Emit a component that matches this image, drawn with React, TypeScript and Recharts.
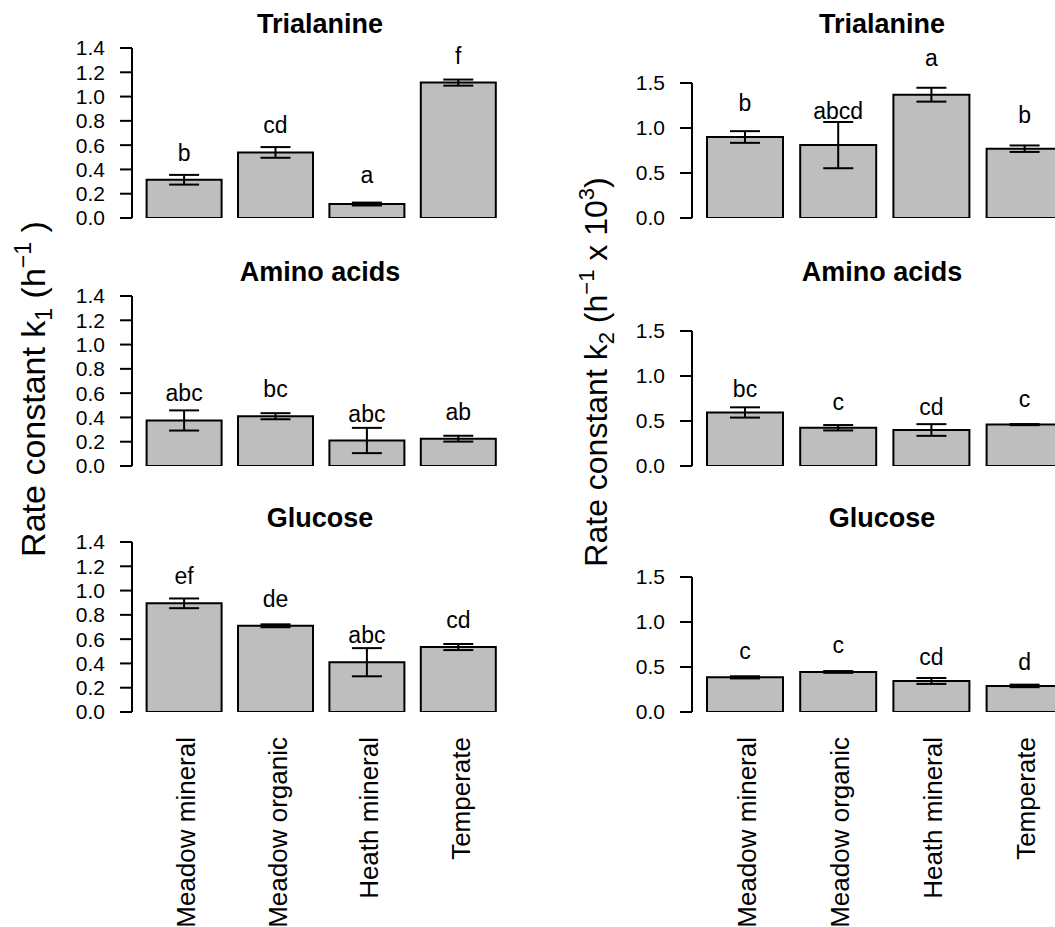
import React from "react";
import { Bar, BarChart, ErrorBar, LabelList, XAxis, YAxis } from "recharts";

const FONT = '"Liberation Sans", Arial, Helvetica, sans-serif';

const sites = ["Meadow mineral", "Meadow organic", "Heath mineral", "Temperate"];

// k1 (h^-1): mean, standard error, significance letters
const k1TrialanineMean = [0.315, 0.54, 0.115, 1.115];
const k1TrialanineSe = [0.04, 0.044, 0.012, 0.025];
const k1TrialanineLetters = ["b", "cd", "a", "f"];

const k1AminoMean = [0.375, 0.41, 0.21, 0.225];
const k1AminoSe = [0.083, 0.025, 0.104, 0.024];
const k1AminoLetters = ["abc", "bc", "abc", "ab"];

const k1GlucoseMean = [0.895, 0.71, 0.41, 0.535];
const k1GlucoseSe = [0.04, 0.012, 0.116, 0.025];
const k1GlucoseLetters = ["ef", "de", "abc", "cd"];

// k2 (h^-1 x 10^3)
const k2TrialanineMean = [0.9, 0.81, 1.37, 0.77];
const k2TrialanineSe = [0.065, 0.257, 0.077, 0.036];
const k2TrialanineLetters = ["b", "abcd", "a", "b"];

const k2AminoMean = [0.595, 0.425, 0.4, 0.46];
const k2AminoSe = [0.057, 0.03, 0.065, 0.006];
const k2AminoLetters = ["bc", "c", "cd", "c"];

const k2GlucoseMean = [0.385, 0.445, 0.345, 0.29];
const k2GlucoseSe = [0.012, 0.01, 0.033, 0.014];
const k2GlucoseLetters = ["c", "c", "cd", "d"];

const k1Ticks = [0, 0.2, 0.4, 0.6, 0.8, 1.0, 1.2, 1.4];
const k2Ticks = [0, 0.5, 1.0, 1.5];

const panelTitles = ["Trialanine", "Amino acids", "Glucose"];

// y of the zero line for each row of panels
const rowZero = [218.3, 466, 712.3];

function SiteTick(props: any) {
  const { x, y, payload } = props;
  const bx = x + 11;
  const by = y + 25;
  return (
    <text
      x={bx}
      y={by}
      transform={`rotate(-90, ${bx}, ${by})`}
      textAnchor="end"
      fontSize={26}
      fontFamily={FONT}
      fill="#000"
    >
      {payload.value}
    </text>
  );
}

function letterLabel(lift: number) {
  return (props: any) => {
    const { x, y, width, value } = props;
    const tall = /[bdfhklt]/.test(String(value));
    return (
      <text
        x={Number(x) + Number(width) / 2}
        y={Number(y) - lift - (tall ? 0 : 2.5)}
        textAnchor="middle"
        fontSize={23}
        fontFamily={FONT}
        fill="#000"
      >
        {value}
      </text>
    );
  };
}

type PanelProps = {
  left: number;
  zeroY: number;
  plotH: number;
  max: number;
  ticks: number[];
  band: number;
  pad: number;
  barSize: number;
  lift: number;
  mean: number[];
  se: number[];
  letters: string[];
  showSites: boolean;
};

function Panel({
  left,
  zeroY,
  plotH,
  max,
  ticks,
  band,
  pad,
  barSize,
  lift,
  mean,
  se,
  letters,
  showSites,
}: PanelProps) {
  const rows = sites.map((site, i) => ({
    site,
    mean: mean[i],
    se: se[i],
    letter: letters[i],
  }));
  const top = 50;
  const width = 520;
  const plotLeft = 132;
  const plotRight = plotLeft + pad + band * sites.length;
  const axisH = showSites ? 215 : 0;
  const bottom = showSites ? 0 : 10;
  const height = top + plotH + axisH + bottom;

  return (
    <div style={{ position: "absolute", left, top: zeroY - plotH - top }}>
      <BarChart
        width={width}
        height={height}
        data={rows}
        margin={{ top, right: width - plotRight, bottom, left: plotLeft - 60 }}
      >
        <XAxis
          dataKey="site"
          hide={!showSites}
          height={axisH}
          padding={{ left: pad, right: 0 }}
          axisLine={false}
          tickLine={false}
          tickSize={0}
          tickMargin={0}
          interval={0}
          tick={<SiteTick />}
        />
        <YAxis
          width={60}
          domain={[0, max]}
          ticks={ticks}
          allowDataOverflow
          interval={0}
          tickFormatter={(v: number) => v.toFixed(1)}
          tick={{ fill: "#000", fontSize: 21, fontFamily: FONT }}
          tickSize={12}
          tickMargin={15}
          axisLine={{ stroke: "#000", strokeWidth: 2 }}
          tickLine={{ stroke: "#000", strokeWidth: 2 }}
        />
        <Bar
          dataKey="mean"
          fill="#bebebe"
          stroke="#000"
          strokeWidth={2}
          barSize={barSize}
          isAnimationActive={false}
        >
          <ErrorBar dataKey="se" width={15} stroke="#000" strokeWidth={2} direction="y" />
          <LabelList dataKey="letter" content={letterLabel(lift)} />
        </Bar>
      </BarChart>
    </div>
  );
}

export default function App() {
  const k1Panels = [
    { mean: k1TrialanineMean, se: k1TrialanineSe, letters: k1TrialanineLetters, lift: 19 },
    { mean: k1AminoMean, se: k1AminoSe, letters: k1AminoLetters, lift: 19 },
    { mean: k1GlucoseMean, se: k1GlucoseSe, letters: k1GlucoseLetters, lift: 19 },
  ];
  const k2Panels = [
    { mean: k2TrialanineMean, se: k2TrialanineSe, letters: k2TrialanineLetters, lift: 26 },
    { mean: k2AminoMean, se: k2AminoSe, letters: k2AminoLetters, lift: 15 },
    { mean: k2GlucoseMean, se: k2GlucoseSe, letters: k2GlucoseLetters, lift: 16 },
  ];

  return (
    <div
      style={{
        position: "absolute",
        left: 0,
        top: 0,
        width: 1055,
        height: 927,
        overflow: "hidden",
        background: "#fff",
        fontFamily: FONT,
      }}
    >
      {k1Panels.map((p, i) => (
        <Panel
          key={`k1-${i}`}
          left={0}
          zeroY={rowZero[i]}
          plotH={170}
          max={1.4}
          ticks={k1Ticks}
          band={91.4}
          pad={6.6}
          barSize={75}
          showSites={i === 2}
          {...p}
        />
      ))}
      {k2Panels.map((p, i) => (
        <Panel
          key={`k2-${i}`}
          left={560}
          zeroY={rowZero[i]}
          plotH={135}
          max={1.5}
          ticks={k2Ticks}
          band={93.2}
          pad={6}
          barSize={76}
          showSites={i === 2}
          {...p}
        />
      ))}

      <svg
        width={1055}
        height={927}
        style={{ position: "absolute", left: 0, top: 0, pointerEvents: "none" }}
        fontFamily={FONT}
      >
        {panelTitles.map((t, i) => (
          <g key={t}>
            <text x={320} y={rowZero[i] - 185} textAnchor="middle" fontSize={27} fontWeight="bold" fill="#000">
              {t}
            </text>
            <text x={882} y={rowZero[i] - 185} textAnchor="middle" fontSize={27} fontWeight="bold" fill="#000">
              {t}
            </text>
          </g>
        ))}

        <text transform="translate(45, 389) rotate(-90)" textAnchor="middle" fontSize={34} fill="#000">
          Rate constant k
          <tspan fontSize={23} dy={7}>1</tspan>
          <tspan dy={-7}>{" (h"}</tspan>
          <tspan fontSize={23} dy={-14}>−1</tspan>
          <tspan dy={14}>{" )"}</tspan>
        </text>

        <text transform="translate(607, 372) rotate(-90)" textAnchor="middle" fontSize={32} fill="#000">
          Rate constant k
          <tspan fontSize={22} dy={7}>2</tspan>
          <tspan dy={-7}>{" (h"}</tspan>
          <tspan fontSize={22} dy={-13}>−1</tspan>
          <tspan dy={13}>{" x 10"}</tspan>
          <tspan fontSize={22} dy={-13}>3</tspan>
          <tspan dy={13}>)</tspan>
        </text>
      </svg>
    </div>
  );
}
